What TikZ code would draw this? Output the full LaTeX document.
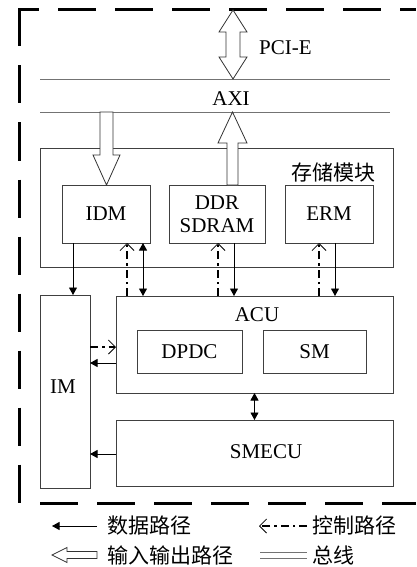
\documentclass[tikz,border=0pt]{standalone}
\usepackage{fontspec}
\setmainfont{Liberation Serif}
\newfontfamily\cjk{Noto Sans CJK SC}
\usetikzlibrary{calc,arrows.meta,positioning}
\tikzset{
myBox/.style={
	rectangle,draw=black!75,line width=0.8pt,
	inner sep=0pt,outer sep=0pt,align=center
}
, myText/.style={inner sep=0pt}
, myBus/.style={draw=black!55,line width=0.7pt}
, myFrame/.style={line width=3pt,dash pattern=on 38pt off 19pt}
% paths
, myData/.style={line width=0.8pt,-{Triangle[length=7.5pt,width=8pt]}}
, myDataBoth/.style={line width=0.8pt,{Triangle[length=7.5pt,width=8pt]}-{Triangle[length=7.5pt,width=8pt]}}
, myCtrl/.style={line width=2.8pt,dash pattern=on 8pt off 4pt on 2.5pt off 4pt,
	-{Straight Barb[length=7pt,width=14pt,line width=0.8pt]}}
, myIO/.style={draw=black!80,line width=0.8pt,fill=white,line join=miter}
}
% hollow arrow: tail, tip, shaft half width, head half width, head length
\newcommand\ioarrow[5]{%
	\coordinate (io-b) at ($(#2)!#5!(#1)$);
	\draw[myIO] ($(#1)!#3!90:(#2)$) -- ($(io-b)!#3!90:(#2)$) -- ($(io-b)!#4!90:(#2)$) -- (#2)
		-- ($(io-b)!#4!-90:(#2)$) -- ($(io-b)!#3!-90:(#2)$) -- ($(#1)!#3!-90:(#2)$) -- cycle;
}

\begin{document}
\begin{tikzpicture}[x=1pt,y=-1pt,every node/.style={font=\fontsize{21}{22.5}\selectfont}]
	\useasboundingbox (0,0) rectangle (416,567);
	% frame
	\draw[myFrame] (19,8.5) -- (19,505);
	\draw[myFrame,dash phase=18pt] (19,10) -- (416,10);
	\draw[myFrame] (40,503) -- (416,503);

	% bus
	\coordinate (BusTL) at (40,79);
	\coordinate (BusTR) at (390,79);
	\coordinate (BusBL) at (40,112);
	\coordinate (BusBR) at (390,112);
	\draw[myBus] (BusTL) -- (BusTR);
	\draw[myBus] (BusBL) -- (BusBR);
	\node[myText] (AXI) at (231,98.5) {AXI};

	% PCI-E
	\coordinate (PciT) at (233,10);
	\coordinate (PciB) at (233,79);
	\draw[myIO] (PciT) -- ++(14,22) -- ++(-7,0) -- ($(PciB)+(7,-22)$) -- ++(7,0) -- (PciB)
		-- ++(-14,-22) -- ++(7,0) -- ($(PciT)+(-7,22)$) -- ++(-7,0) -- cycle;
	\node[myText,anchor=west] (PCIE) at (259,48) {PCI-E};

	% nodes
	\node[myBox,minimum width=353pt,minimum height=119pt] (Store) at (216.5,207.5) {};
	\node[myText] (StoreName) at (333.5,173) {\cjk 存储模块};
	\node[myBox,minimum width=88pt,minimum height=58pt] (IDM) at (106,214) {IDM};
	\node[myBox,minimum width=96pt,minimum height=58pt] (DDR) at (217,214) {DDR\\SDRAM};
	\node[myBox,minimum width=88pt,minimum height=58pt] (ERM) at (329,214) {ERM};
	\node[myBox,minimum width=50pt,minimum height=193pt] (IM) at (65,391.5) {};
	\node[myText] (IMName) at (63,387) {IM};
	\node[myBox,minimum width=277pt,minimum height=97pt] (ACU) at (254.5,344.5) {};
	\node[myText] (ACUName) at (257,314.5) {ACU};
	\node[myBox,minimum width=105pt,minimum height=43pt] (DPDC) at (189.5,351.5) {DPDC};
	\node[myBox,minimum width=103pt,minimum height=43pt] (SM) at (314.5,351.5) {SM};
	\node[myBox,minimum width=277pt,minimum height=66pt] (SMECU) at (254.5,453) {};
	\node[myText] (SMECUName) at (266,451.5) {SMECU};

	% io paths
	\coordinate (IdmIn) at ($(IDM.north)+(0.5,0)$);
	\coordinate (IdmBus) at (IdmIn |- BusBL);
	\ioarrow{IdmBus}{IdmIn}{6.5pt}{13.5pt}{30pt}
	\coordinate (DdrOut) at ($(DDR.north)+(15.5,0)$);
	\coordinate (DdrBus) at (DdrOut |- BusBL);
	\ioarrow{DdrOut}{DdrBus}{5.5pt}{14.5pt}{31pt}

	% links
	\coordinate (IdmM) at ([xshift=11pt]IDM.south west);
	\coordinate (IdmC) at ([xshift=65pt]IDM.south west);
	\coordinate (IdmD) at ([xshift=81pt]IDM.south west);
	\draw[myData] (IdmM) -- (IdmM |- IM.north);
	\draw[myCtrl] (IdmC |- ACU.north) -- (IdmC);
	\draw[myDataBoth] (IdmD) -- (IdmD |- ACU.north);

	\coordinate (DdrC) at ([xshift=49pt]DDR.south west);
	\coordinate (DdrD) at ([xshift=65pt]DDR.south west);
	\draw[myCtrl] (DdrC |- ACU.north) -- (DdrC);
	\draw[myData] (DdrD) -- (DdrD |- ACU.north);

	\coordinate (ErmC) at ([xshift=34pt]ERM.south west);
	\coordinate (ErmD) at ([xshift=50pt]ERM.south west);
	\draw[myCtrl] (ErmC |- ACU.north) -- (ErmC);
	\draw[myData] (ErmD) -- (ErmD |- ACU.north);

	\coordinate (AcuC) at ([yshift=-51pt]ACU.north west);
	\coordinate (AcuD) at ([yshift=-67pt]ACU.north west);
	\draw[myCtrl] (AcuC -| IM.east) -- (AcuC);
	\draw[myData] (AcuD) -- (AcuD -| IM.east);
	\coordinate (SmecuD) at ([yshift=-34pt]SMECU.north west);
	\draw[myData] (SmecuD) -- (SmecuD -| IM.east);
	\draw[myDataBoth] (ACU.south) -- (SMECU.north);

	% legend
	\coordinate (LgDataR) at (97,526);
	\coordinate (LgDataL) at (52,526);
	\draw[myData] (LgDataR) -- (LgDataL);
	\node[myText,anchor=west] (LgData) at (107,526) {\cjk 数据路径};
	\coordinate (LgCtrlR) at (307,526);
	\coordinate (LgCtrlL) at (259,526);
	\draw[myCtrl] (LgCtrlR) -- (LgCtrlL);
	\node[myText,anchor=west] (LgCtrl) at (312,526) {\cjk 控制路径};
	\coordinate (LgIoR) at (97,555);
	\coordinate (LgIoL) at (52,555);
	\ioarrow{LgIoR}{LgIoL}{3.5pt}{7.5pt}{15pt}
	\node[myText,anchor=west] (LgIo) at (107,555) {\cjk 输入输出路径};
	\coordinate (LgBusL) at (260,552);
	\coordinate (LgBusR) at (307,552);
	\draw[myBus] (LgBusL) -- (LgBusR);
	\draw[myBus] ([yshift=-6pt]LgBusL) -- ([yshift=-6pt]LgBusR);
	\node[myText,anchor=west] (LgBus) at (312,555) {\cjk 总线};
\end{tikzpicture}
\end{document}
